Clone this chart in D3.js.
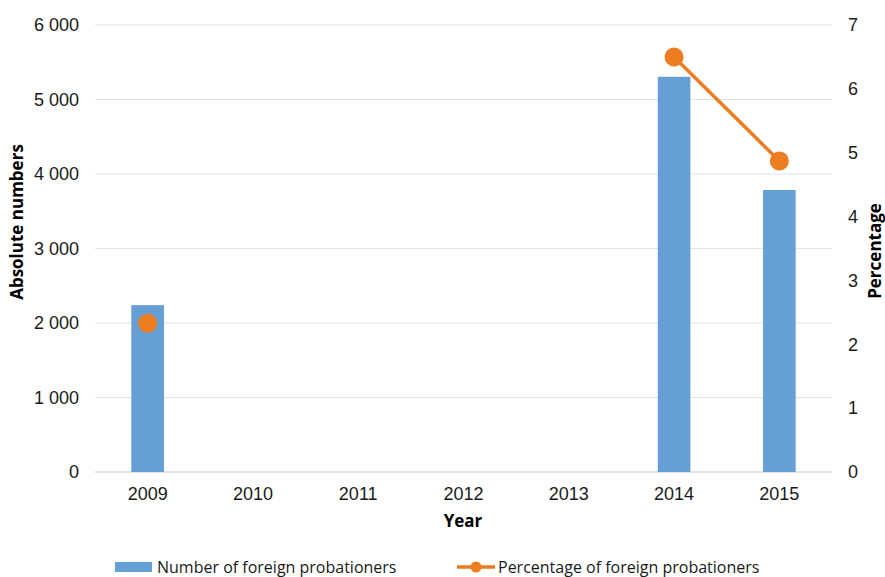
<!DOCTYPE html>
<html><head><meta charset="utf-8">
<script src="https://cdn.jsdelivr.net/npm/d3@7"></script>
<style>body{margin:0;background:#fff;} svg{display:block;}</style>
</head><body>
<svg id="c" width="885" height="577"></svg>
<script>
const years = ["2009","2010","2011","2012","2013","2014","2015"];
const absoluteNumbers = [2240, null, null, null, null, 5305, 3785];
const percentages = [2.33, null, null, null, null, 6.5, 4.87];
const leftTicks = [0,1000,2000,3000,4000,5000,6000];
const rightTicks = [0,1,2,3,4,5,6,7];
const seriesNames = ["Number of foreign probationers","Percentage of foreign probationers"];

const svg = d3.select("#c");
const m = {l:95, r:832, t:25, b:472};
const x = d3.scaleBand().domain(years).range([m.l, m.r]).paddingInner(0.69).paddingOuter(0.345);
const yL = d3.scaleLinear().domain([0,6000]).range([m.b, m.t]);
const yR = d3.scaleLinear().domain([0,7]).range([m.b, m.t]);
const tickFont = "'Liberation Sans', Arial, sans-serif";
const lblFont = "'Open Sans', sans-serif";

// gridlines
svg.append("g").selectAll("line").data(leftTicks).join("line")
  .attr("x1", m.l).attr("x2", m.r)
  .attr("y1", d => yL(d)).attr("y2", d => yL(d))
  .attr("stroke", d => d===0 ? "#d9d9d9" : "#e3e3e3").attr("stroke-width", d => d===0?1.5:1.2);

// left axis
const la = svg.append("g").attr("transform", `translate(${m.l},0)`)
  .call(d3.axisLeft(yL).tickValues(leftTicks).tickFormat(d => d3.format(",")(d).replace(/,/g," ")).tickSize(0).tickPadding(16));
la.select(".domain").remove();
la.selectAll("text").attr("font-family", tickFont).attr("font-size", 18).attr("fill", "#1a1a1a");

// right axis
const ra = svg.append("g").attr("transform", `translate(${m.r},0)`)
  .call(d3.axisRight(yR).tickValues(rightTicks).tickFormat(d3.format("d")).tickSize(0).tickPadding(16));
ra.select(".domain").remove();
ra.selectAll("text").attr("font-family", tickFont).attr("font-size", 18).attr("fill", "#1a1a1a");

// x axis
const xa = svg.append("g").attr("transform", `translate(0,${m.b})`)
  .call(d3.axisBottom(x).tickSize(0).tickPadding(15));
xa.select(".domain").remove();
xa.selectAll("text").attr("font-family", tickFont).attr("font-size", 18).attr("fill", "#1a1a1a");

// bars
svg.append("g").selectAll("rect").data(years.map((y,i)=>({y, v:absoluteNumbers[i]})).filter(d=>d.v!=null)).join("rect")
  .attr("x", d => x(d.y)).attr("width", x.bandwidth())
  .attr("y", d => yL(d.v)).attr("height", d => yL(0)-yL(d.v))
  .attr("fill", "#659fd5");

// line
const pts = years.map((y,i)=>({y, v:percentages[i]}));
const line = d3.line().defined(d => d.v!=null).x(d => x(d.y)+x.bandwidth()/2).y(d => yR(d.v));
svg.append("path").datum(pts).attr("d", line).attr("fill","none").attr("stroke","#ed7d21").attr("stroke-width",3.5);
svg.append("g").selectAll("circle").data(pts.filter(d=>d.v!=null)).join("circle")
  .attr("cx", d => x(d.y)+x.bandwidth()/2).attr("cy", d => yR(d.v)).attr("r", 9.5).attr("fill","#ed7d21");

// axis titles
svg.append("text").attr("transform","translate(23,222) rotate(-90)").attr("text-anchor","middle")
  .attr("font-family", lblFont).attr("font-weight","bold").attr("font-size",17).attr("fill","#000").text("Absolute numbers");
svg.append("text").attr("transform","translate(881,251) rotate(-90)").attr("text-anchor","middle")
  .attr("font-family", lblFont).attr("font-weight","bold").attr("font-size",17).attr("fill","#000").text("Percentage");
svg.append("text").attr("x",463).attr("y",527).attr("text-anchor","middle")
  .attr("font-family", lblFont).attr("font-weight","bold").attr("font-size",17).attr("fill","#000").text("Year");

// legend
const lg = svg.append("g");
lg.append("rect").attr("x",115).attr("y",562).attr("width",37).attr("height",10).attr("fill","#659fd5");
lg.append("text").attr("x",157).attr("y",573).attr("font-family",lblFont).attr("font-size",16).attr("fill","#1a1a1a").text(seriesNames[0]);
lg.append("line").attr("x1",457).attr("x2",495).attr("y1",567).attr("y2",567).attr("stroke","#ed7d21").attr("stroke-width",3.5);
lg.append("circle").attr("cx",476).attr("cy",567).attr("r",5.5).attr("fill","#ed7d21");
lg.append("text").attr("x",498).attr("y",573).attr("font-family",lblFont).attr("font-size",16).attr("fill","#1a1a1a").text(seriesNames[1]);
</script>
</body></html>
